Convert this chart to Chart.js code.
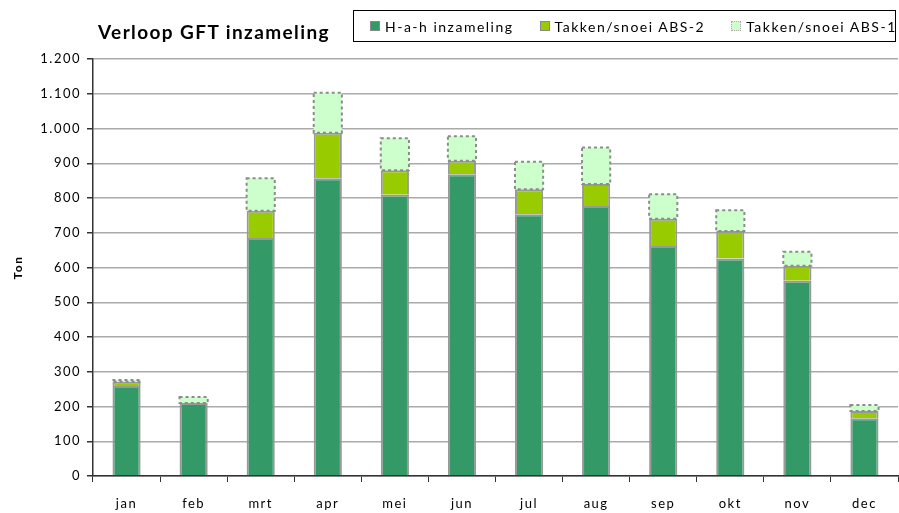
<!DOCTYPE html>
<html>
<head>
<meta charset="utf-8">
<script src="https://cdn.jsdelivr.net/npm/chart.js@4/dist/chart.umd.min.js"></script>
<style>
    body { margin: 0; background: #fff; }
    #wrap { position: relative; width: 899px; height: 513px; }
    #title { position: absolute; left: 98px; top: 20px; font: bold 19px Lato, sans-serif; letter-spacing: 1.4px; color: #000; white-space: nowrap; }
    #legend { position: absolute; left: 353px; top: 10px; width: 541px; height: 30px; border: 1px solid #000;
              display: flex; align-items: center; font: 14px Lato, sans-serif; letter-spacing: 1.5px; color: #000; white-space: nowrap; }
    #legend .item { display: flex; align-items: center; flex: none; margin-left: 16px; }
    #legend .item + .item { margin-left: 26px; }
    #legend .sw { width: 10px; height: 10px; margin-right: 5px; box-sizing: border-box; }
</style>
</head>
<body>
<div id="wrap">
    <canvas id="gftChart" width="899" height="513"></canvas>
    <div id="title">Verloop GFT inzameling</div>
    <div id="legend"></div>
</div>
<script>
// Data (ton per maand)
const months = ['jan', 'feb', 'mrt', 'apr', 'mei', 'jun', 'jul', 'aug', 'sep', 'okt', 'nov', 'dec'];
const hahInzameling = [259, 210, 685, 857, 809, 868, 753, 777, 662, 626, 562, 166];
const takkenAbs2 = [12, 0, 78, 131, 71, 39, 72, 63, 78, 79, 43, 21];
const takkenAbs1 = [5, 17, 94, 115, 92, 71, 79, 105, 71, 60, 40, 17];
const seriesNames = ['H-a-h inzameling', 'Takken/snoei ABS-2', 'Takken/snoei ABS-1'];

const fmt = (v) => v.toString().replace(/\B(?=(\d{3})+(?!\d))/g, '.');

// wider text spacing on the canvas, dotted outline for the ABS-1 bars
const extras = {
    id: 'extras',
    beforeLayout(chart) {
        chart.ctx.letterSpacing = '1.5px';
    },
    beforeDraw(chart) {
        chart.ctx.letterSpacing = '1.5px';
    },
    afterDatasetsDraw(chart) {
        const ctx = chart.ctx;
        const meta = chart.getDatasetMeta(2);
        ctx.save();
        ctx.strokeStyle = '#8c8c8c';
        ctx.lineWidth = 2;
        ctx.setLineDash([3, 3]);
        meta.data.forEach((bar) => {
            const h = bar.base - bar.y;
            if (h <= 0) return;
            ctx.strokeRect(bar.x - bar.width / 2, bar.y, bar.width, h);
        });
        ctx.restore();
    }
};

const chart = new Chart(document.getElementById('gftChart'), {
    type: 'bar',
    data: {
        labels: months,
        datasets: [
            {
                label: seriesNames[0],
                data: hahInzameling,
                backgroundColor: '#339966',
                borderColor: '#999999',
                borderWidth: 2,
            },
            {
                label: seriesNames[1],
                data: takkenAbs2,
                backgroundColor: '#99cc00',
                borderColor: '#999999',
                borderWidth: 2,
            },
            {
                label: seriesNames[2],
                data: takkenAbs1,
                backgroundColor: '#ccffcc',
                borderColor: '#8c8c8c',
                borderWidth: 0,
            },
        ],
    },
    options: {
        responsive: false,
        animation: false,
        layout: { padding: { top: 59, left: 0, right: 1, bottom: 0 } },
        datasets: { bar: { barPercentage: 0.42, categoryPercentage: 1 } },
        scales: {
            x: {
                stacked: true,
                afterFit: (scale) => { scale.height = 37; },
                grid: { drawOnChartArea: false, offset: true, tickLength: 6, color: '#333' },
                border: { color: '#333', width: 1.5 },
                ticks: { color: '#000', font: { family: 'Lato', size: 13 }, padding: 14, maxRotation: 0, autoSkip: false },
            },
            y: {
                stacked: true,
                min: 0,
                max: 1200,
                afterFit: (scale) => { scale.width = 93; },
                ticks: { stepSize: 100, color: '#000', font: { family: 'Lato', size: 13 }, padding: 6, callback: (v) => fmt(v) },
                grid: { color: '#aaaaaa', lineWidth: 1.5, tickLength: 6, tickColor: '#333' },
                border: { color: '#333', width: 1.5 },
                title: { display: true, text: 'Ton', color: '#000', font: { family: 'Lato', size: 12, weight: 'bold' }, padding: { top: 11, bottom: 4 } },
            },
        },
        plugins: {
            legend: { display: false },
            tooltip: { enabled: false },
        },
    },
    plugins: [extras],
});

// Legend built from the chart's datasets
const legendEl = document.getElementById('legend');
chart.data.datasets.forEach((ds, i) => {
    const item = document.createElement('div');
    item.className = 'item';
    const sw = document.createElement('span');
    sw.className = 'sw';
    sw.style.background = ds.backgroundColor;
    sw.style.border = i === 2 ? '1px dotted #aaa' : '1px solid #888';
    const txt = document.createElement('span');
    txt.textContent = ds.label;
    item.appendChild(sw);
    item.appendChild(txt);
    legendEl.appendChild(item);
});
</script>
</body>
</html>
